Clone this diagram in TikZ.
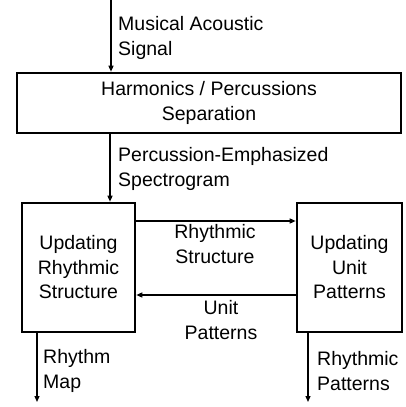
\documentclass[tikz,border=0pt]{standalone}
\usepackage{fontspec}
\setmainfont{Liberation Sans}
\usetikzlibrary{arrows.meta}
\tikzset{
  box/.style={draw, line width=2.6pt, inner sep=0pt, align=center},
  arr/.style={line width=1.3pt, -{Triangle[length=6pt,width=5pt]}},
  lbl/.style={inner sep=0pt, align=left, anchor=west},
  clbl/.style={inner sep=0pt, align=center},
}
\begin{document}
\begin{tikzpicture}[x=1pt,y=-1pt,font=\fontsize{19.5}{24.5}\selectfont]
\useasboundingbox (0,0) rectangle (405,407);
\node[box, minimum width=384pt, minimum height=60pt] (b1) at (209,103) {Harmonics / Percussions\\Separation};
\node[box, minimum width=113pt, minimum height=129pt] (b2) at (78.5,267.5) {Updating\\Rhythmic\\Structure};
\node[box, minimum width=105pt, minimum height=129pt] (b3) at (349.5,267.5) {Updating\\Unit\\Patterns};
\coordinate (c1) at (111,0);
\coordinate (c2) at (110,0);
\coordinate (c3) at (0,221);
\coordinate (c4) at (0,295);
\coordinate (e1) at (37,402);
\coordinate (e2) at (308,402);
\draw[arr] (c1) -- (c1 |- b1.north);
\draw[arr] (b1.south -| c2) -- (b2.north -| c2);
\draw[arr] (b2.east |- c3) -- (b3.west |- c3);
\draw[arr] (b3.west |- c4) -- (b2.east |- c4);
\draw[arr] (b2.south -| e1) -- (e1);
\draw[arr] (b3.south -| e2) -- (e2);
\node[lbl] (l1) at (118,38) {Musical Acoustic\\Signal};
\node[lbl] (l2) at (118,169) {Percussion-Emphasized\\Spectrogram};
\node[clbl] (l3) at (215,244) {Rhythmic\\Structure};
\node[clbl] (l4) at (221,320) {Unit\\Patterns};
\node[lbl] (l5) at (43,371) {Rhythm\\Map};
\node[lbl] (l6) at (317,371) {Rhythmic\\Patterns};
\end{tikzpicture}
\end{document}
